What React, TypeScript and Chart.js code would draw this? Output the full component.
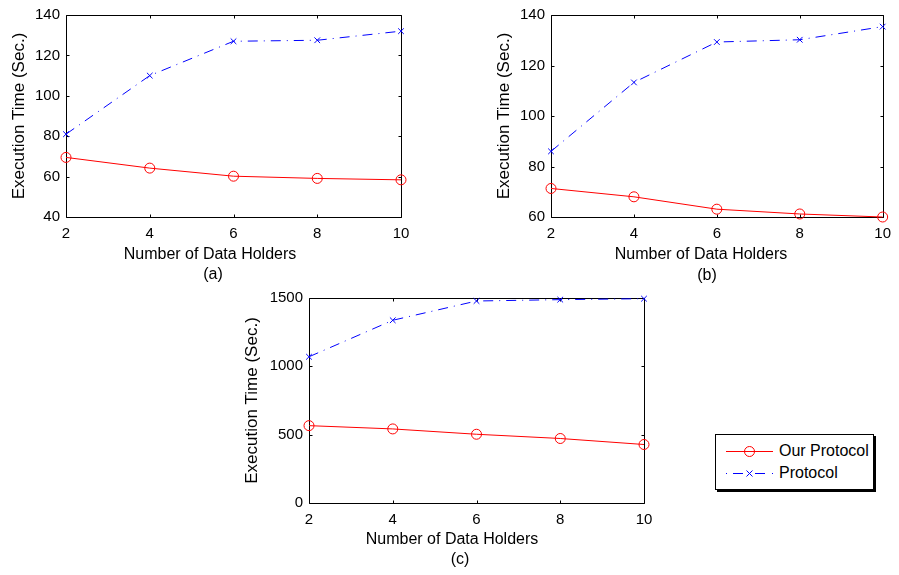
import React, { useEffect, useRef } from 'react';
import { Chart, registerables } from 'chart.js';

Chart.register(...registerables);

// ---------- data ----------
const holders = [2, 4, 6, 8, 10];
const xTickValues = [2, 4, 6, 8, 10];
const seriesNames = ['Our Protocol', 'Protocol'];
const xLabel = 'Number of Data Holders';
const yLabel = 'Execution Time (Sec.)';

const aOurs = [69.5, 64.2, 60.2, 59.1, 58.4];
const aProto = [81, 110, 127, 127.5, 132];
const aYTicks = [40, 60, 80, 100, 120, 140];

const bOurs = [71.3, 68, 63.1, 61.2, 60];
const bProto = [86, 113.3, 129.3, 130.2, 135.4];
const bYTicks = [60, 80, 100, 120, 140];

const cOurs = [566, 542, 503, 472, 428];
const cProto = [1070, 1337, 1478, 1488, 1495];
const cYTicks = [0, 500, 1000, 1500];

// ---------- styles ----------
const FONT = '"Liberation Sans", Arial, Helvetica, sans-serif';
const RED = '#ff0000';
const BLUE = '#0000ff';
const DASHDOT = [10, 6, 1, 6];
const TICK = 3;

const framePlugin = {
  id: 'frame',
  beforeDatasetsDraw(chart: any) {
    const o = chart.options.plugins.frame;
    const { ctx, chartArea: a, scales } = chart;
    const px = (v: number) => Math.round(v) + 0.5;
    const L = px(a.left), R = px(a.right), T = px(a.top), B = px(a.bottom);
    ctx.save();
    ctx.strokeStyle = '#000';
    ctx.lineWidth = 1;
    ctx.beginPath();
    ctx.rect(L, T, R - L, B - T);
    for (const t of scales.x.ticks) {
      const x = px(scales.x.getPixelForValue(t.value));
      ctx.moveTo(x, B); ctx.lineTo(x, B - TICK);
      ctx.moveTo(x, T); ctx.lineTo(x, T + TICK);
    }
    for (const t of scales.y.ticks) {
      const y = px(scales.y.getPixelForValue(t.value));
      ctx.moveTo(L, y); ctx.lineTo(L + TICK, y);
      ctx.moveTo(R, y); ctx.lineTo(R - TICK, y);
    }
    ctx.stroke();
    ctx.fillStyle = '#000';
    ctx.textAlign = 'center';
    ctx.textBaseline = 'middle';
    ctx.font = `16px ${FONT}`;
    ctx.fillText(o.xTitle, o.xTitleX, o.xTitleY);
    ctx.fillText(o.sub, o.subX, o.subY);
    ctx.font = `17px ${FONT}`;
    ctx.translate(o.yTitleX, (a.top + a.bottom) / 2);
    ctx.rotate(-Math.PI / 2);
    ctx.fillText(o.yTitle, 0, 0);
    ctx.restore();
  },
};

type PanelProps = {
  cx: number; cy: number; w: number; h: number;
  area: { l: number; r: number; t: number; b: number };
  ours: number[]; proto: number[]; yTicks: number[];
  sub: string;
  yTitleX: number; xTitleX: number; xTitleY: number; subX: number; subY: number;
};

function Panel(p: PanelProps) {
  const ref = useRef<HTMLCanvasElement | null>(null);
  useEffect(() => {
    if (!ref.current) return;
    const yWidth = p.area.l - p.cx;
    const xHeight = p.cy + p.h - p.area.b;
    const chart = new Chart(ref.current, {
      type: 'line',
      data: {
        datasets: [
          {
            label: seriesNames[0],
            data: holders.map((x, i) => ({ x, y: p.ours[i] })),
            borderColor: RED,
            borderWidth: 1,
            pointStyle: 'circle',
            pointRadius: 5,
            pointBorderColor: RED,
            pointBackgroundColor: 'rgba(0,0,0,0)',
            pointBorderWidth: 1,
            clip: false,
          } as any,
          {
            label: seriesNames[1],
            data: holders.map((x, i) => ({ x, y: p.proto[i] })),
            borderColor: BLUE,
            borderWidth: 1,
            borderDash: DASHDOT,
            pointStyle: 'crossRot',
            pointRadius: 4,
            pointBorderColor: BLUE,
            pointBorderWidth: 1,
            clip: false,
          } as any,
        ],
      },
      options: {
        animation: false,
        responsive: false,
        devicePixelRatio: 1,
        events: [],
        layout: {
          padding: {
            left: 0,
            right: p.cx + p.w - p.area.r,
            top: p.area.t - p.cy,
            bottom: 0,
          },
        },
        plugins: {
          legend: { display: false },
          tooltip: { enabled: false },
          frame: {
            xTitle: xLabel,
            yTitle: yLabel,
            sub: p.sub,
            xTitleX: p.xTitleX - p.cx,
            xTitleY: p.xTitleY - p.cy,
            subX: p.subX - p.cx,
            subY: p.subY - p.cy,
            yTitleX: p.yTitleX - p.cx,
          },
        } as any,
        scales: {
          x: {
            type: 'linear',
            min: xTickValues[0],
            max: xTickValues[xTickValues.length - 1],
            grid: { display: false, drawTicks: false },
            border: { display: false },
            afterBuildTicks: (s: any) => { s.ticks = xTickValues.map((v) => ({ value: v })); },
            afterFit: (s: any) => { s.height = xHeight; },
            ticks: {
              color: '#000', font: { family: FONT, size: 15 }, padding: 8, autoSkip: false, maxRotation: 0,
              callback: (v: any) => String(v),
            },
          },
          y: {
            type: 'linear',
            min: p.yTicks[0],
            max: p.yTicks[p.yTicks.length - 1],
            grid: { display: false, drawTicks: false },
            border: { display: false },
            afterBuildTicks: (s: any) => { s.ticks = p.yTicks.map((v) => ({ value: v })); },
            afterFit: (s: any) => { s.width = yWidth; },
            ticks: {
              color: '#000', font: { family: FONT, size: 15 }, padding: 6, autoSkip: false,
              callback: (v: any) => String(v),
            },
          },
        },
      } as any,
      plugins: [framePlugin],
    });
    return () => chart.destroy();
  }, []);
  return (
    <canvas
      ref={ref}
      width={p.w}
      height={p.h}
      style={{ position: 'absolute', left: p.cx, top: p.cy, width: p.w, height: p.h }}
    />
  );
}

function Legend() {
  const textStyle: React.CSSProperties = {
    position: 'absolute', left: 63, fontFamily: FONT, fontSize: 16, lineHeight: '20px', color: '#000', whiteSpace: 'nowrap',
  };
  return (
    <div
      style={{
        position: 'absolute', left: 715, top: 434, width: 159, height: 56, boxSizing: 'border-box',
        border: '1px solid #000', background: '#fff', boxShadow: '2px 2px 0 #000',
      }}
    >
      <svg width={157} height={54} style={{ position: 'absolute', left: 0, top: 0 }}>
        <line x1={10} y1={16.5} x2={57} y2={16.5} stroke={RED} strokeWidth={1} />
        <circle cx={33.5} cy={16.5} r={5} fill="none" stroke={RED} strokeWidth={1} />
        <line x1={10} y1={38.5} x2={11} y2={38.5} stroke={BLUE} strokeWidth={1} />
        <line x1={17} y1={38.5} x2={27} y2={38.5} stroke={BLUE} strokeWidth={1} />
        <line x1={39} y1={38.5} x2={49} y2={38.5} stroke={BLUE} strokeWidth={1} />
        <line x1={56} y1={38.5} x2={57} y2={38.5} stroke={BLUE} strokeWidth={1} />
        <line x1={30.5} y1={35.5} x2={36.5} y2={41.5} stroke={BLUE} strokeWidth={1} />
        <line x1={36.5} y1={35.5} x2={30.5} y2={41.5} stroke={BLUE} strokeWidth={1} />
      </svg>
      <span style={{ ...textStyle, top: 6 }}>{seriesNames[0]}</span>
      <span style={{ ...textStyle, top: 28 }}>{seriesNames[1]}</span>
    </div>
  );
}

export default function App() {
  return (
    <div style={{ position: 'absolute', left: 0, top: 0, width: 899, height: 575, background: '#fff', overflow: 'hidden' }}>
      <Panel
        cx={0} cy={0} w={440} h={290}
        area={{ l: 66, r: 401, t: 13, b: 217 }}
        ours={aOurs} proto={aProto} yTicks={aYTicks} sub="(a)"
        yTitleX={19} xTitleX={210} xTitleY={255} subX={213} subY={275}
      />
      <Panel
        cx={450} cy={0} w={449} h={290}
        area={{ l: 551, r: 887, t: 12, b: 217 }}
        ours={bOurs} proto={bProto} yTicks={bYTicks} sub="(b)"
        yTitleX={504} xTitleX={701} xTitleY={255} subX={707} subY={276}
      />
      <Panel
        cx={230} cy={280} w={440} h={295}
        area={{ l: 309, r: 644, t: 298, b: 503 }}
        ours={cOurs} proto={cProto} yTicks={cYTicks} sub="(c)"
        yTitleX={252} xTitleX={452} xTitleY={540} subX={460} subY={560}
      />
      <Legend />
    </div>
  );
}
